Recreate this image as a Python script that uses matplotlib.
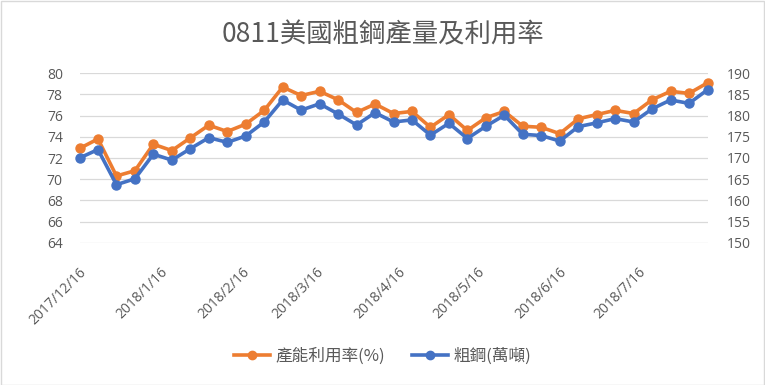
import matplotlib
matplotlib.use("Agg")
import matplotlib.pyplot as plt
import matplotlib.transforms as mtransforms
from matplotlib.lines import Line2D
from matplotlib.patches import Rectangle
import pandas as pd

title = "0811美國粗鋼產量及利用率"
dates = ["2017-12-16", "2017-12-23", "2017-12-30", "2018-01-06", "2018-01-13",
         "2018-01-20", "2018-01-27", "2018-02-03", "2018-02-10", "2018-02-17",
         "2018-02-24", "2018-03-03", "2018-03-10", "2018-03-17", "2018-03-24",
         "2018-03-31", "2018-04-07", "2018-04-14", "2018-04-21", "2018-04-28",
         "2018-05-05", "2018-05-12", "2018-05-19", "2018-05-26", "2018-06-02",
         "2018-06-09", "2018-06-16", "2018-06-23", "2018-06-30", "2018-07-07",
         "2018-07-14", "2018-07-21", "2018-07-28", "2018-08-04", "2018-08-11"]
utilization = [72.9, 73.8, 70.3, 70.8, 73.3, 72.7, 73.9, 75.1, 74.5, 75.2,
               76.5, 78.7, 77.9, 78.3, 77.5, 76.3, 77.1, 76.2, 76.4, 74.9,
               76.1, 74.6, 75.8, 76.4, 75.0, 74.9, 74.3, 75.7, 76.1, 76.5,
               76.2, 77.5, 78.3, 78.1, 79.1]
steel = [170.0, 172.0, 163.7, 165.1, 170.9, 169.5, 172.2, 174.8, 173.7, 175.2,
         178.5, 183.7, 181.3, 182.8, 180.4, 177.8, 180.7, 178.5, 179.0, 175.4,
         178.2, 174.6, 177.5, 180.1, 175.6, 175.3, 174.0, 177.4, 178.3, 179.3,
         178.5, 181.6, 183.7, 182.9, 186.1]
tick_dates = ["2017-12-16", "2018-01-16", "2018-02-16", "2018-03-16",
              "2018-04-16", "2018-05-16", "2018-06-16", "2018-07-16"]
tick_labels = ["2017/12/16", "2018/1/16", "2018/2/16", "2018/3/16",
               "2018/4/16", "2018/5/16", "2018/6/16", "2018/7/16"]
left_ticks = [64, 66, 68, 70, 72, 74, 76, 78, 80]
right_ticks = [150, 155, 160, 165, 170, 175, 180, 185, 190]
series_names = ["產能利用率(%)", "粗鋼(萬噸)"]

ORANGE = "#ED7D31"
BLUE = "#4472C4"
GRAY = "#595959"
GRID = "#D9D9D9"
CJK = ["Noto Sans CJK TC", "DejaVu Sans"]
TICKF = ["Open Sans", "DejaVu Sans"]

x = pd.to_datetime(dates)
xt = pd.to_datetime(tick_dates)

W, H = 765, 385
fig = plt.figure(figsize=(W / 100, H / 100), dpi=100)
fig.patches.append(Rectangle((0.5 / W, 0.5 / H), 1 - 1.5 / W, 1 - 1.5 / H,
                             transform=fig.transFigure, fill=False,
                             edgecolor=GRID, linewidth=1))

left, right = 79.5 / W, 707.5 / W
top, bottom = 1 - 73.3 / H, 1 - 242.7 / H
ax = fig.add_axes([left, bottom, right - left, top - bottom])
ax2 = ax.twinx()

lw = 2.6
ms = 6.5
ax.plot(x, utilization, color=ORANGE, lw=lw, marker="o", ms=ms, zorder=3,
        clip_on=False)
ax2.plot(x, steel, color=BLUE, lw=lw, marker="o", ms=ms, zorder=3,
         clip_on=False)

ax.set_ylim(64, 80)
ax2.set_ylim(150, 190)
ax.set_yticks(left_ticks)
ax2.set_yticks(right_ticks)
ax.set_xlim(x[0], x[-1])
ax.set_xticks(xt)
ax.set_xticklabels([])
# rotated date labels, placed at each tick with a fixed pixel offset
trans = mtransforms.blended_transform_factory(ax.transData, ax.transAxes) + \
    mtransforms.ScaledTranslation(0.045, -0.275, fig.dpi_scale_trans)
for d, lab in zip(xt, tick_labels):
    ax.text(d, 0, lab, transform=trans, rotation=45, ha="right", va="center",
            rotation_mode="anchor", family=TICKF, fontsize=10, color=GRAY,
            clip_on=False)
ax.grid(axis="y", color=GRID, lw=0.9)
ax.set_axisbelow(True)

for a in (ax, ax2):
    for s in a.spines.values():
        s.set_visible(False)
ax.tick_params(axis="both", length=0, colors=GRAY)
ax2.tick_params(axis="both", length=0, colors=GRAY)
ax.tick_params(axis="y", pad=12)
ax2.tick_params(axis="y", pad=14)
for lab in ax.get_yticklabels() + ax2.get_yticklabels():
    lab.set_family(TICKF)
    lab.set_fontsize(10)
    lab.set_color(GRAY)

fig.text(0.5, 1 - 35 / H, title, ha="center", va="center", fontsize=19,
         color=GRAY, family=CJK)

handles = [Line2D([], [], color=ORANGE, lw=lw, marker="o", ms=6),
           Line2D([], [], color=BLUE, lw=lw, marker="o", ms=6)]
leg = fig.legend(handles, series_names, loc="center", bbox_to_anchor=(0.5, 1 - 356 / H),
                 ncol=2, frameon=False, prop={"family": CJK, "size": 12},
                 handlelength=2.2, handletextpad=0.3, columnspacing=1.6)
for t in leg.get_texts():
    t.set_color(GRAY)

fig.savefig("out.png", dpi=100)
